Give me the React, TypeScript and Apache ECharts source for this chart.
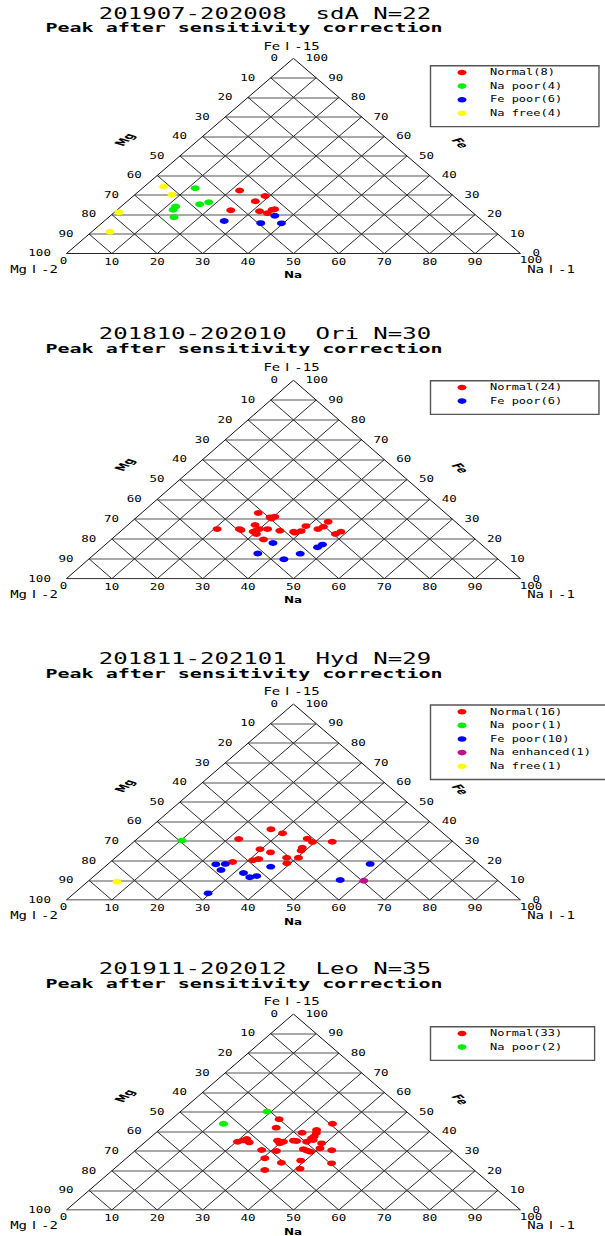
import React, { useEffect, useRef } from "react";
import * as echarts from "echarts";

// Every point is stored as [Na %, Fe %]; the Mg share is 100 - Na - Fe.
const TICK_VALUES = [0, 10, 20, 30, 40, 50, 60, 70, 80, 90, 100];
const GRID_STEPS = [10, 20, 30, 40, 50, 60, 70, 80, 90];

const RED = "#ff0000";
const GREEN = "#00ee00";
const BLUE = "#0000ff";
const MAGENTA = "#c0108c";
const YELLOW = "#ffff00";

// ---- 201907-202008 sdA ----
const sdaTitle = "201907-202008  sdA N=22";
const sdaLegend = ["Normal(8)", "Na poor(4)", "Fe poor(6)", "Na free(4)"];
const sdaNormal = [[22.0, 32.3], [29.0, 29.5], [28.2, 26.8], [25.1, 22.2], [31.7, 21.7], [33.9, 20.7], [34.1, 22.4], [34.5, 22.7]];
const sdaNaPoor = [[11.6, 33.5], [16.7, 25.3], [18.2, 26.3], [12.0, 24.1], [12.3, 22.4], [14.4, 18.6]];
const sdaFePoor = [[26.4, 16.7], [35.0, 15.6], [36.2, 19.4], [39.6, 15.5]];
const sdaNaFree = [[4.3, 34.3], [8.2, 30.1], [1.0, 21.2], [4.0, 11.2]];

// ---- 201810-202010 Ori ----
const oriTitle = "201810-202010  Ori N=30";
const oriLegend = ["Normal(24)", "Fe poor(6)"];
const oriNormal = [
  [25.7, 33.1], [29.4, 30.9], [30.3, 31.2], [20.7, 25.0], [25.6, 25.0], [26.2, 24.5],
  [28.0, 27.1], [31.8, 25.0], [29.6, 24.2], [30.6, 22.5], [30.0, 25.0], [33.5, 19.8],
  [34.9, 24.2], [38.2, 23.7], [38.7, 23.2], [39.7, 24.0], [39.5, 26.5], [42.9, 25.0],
  [43.5, 26.2], [43.3, 28.7], [48.0, 22.5], [48.6, 23.7], [29.3, 23.7], [30.0, 30.3],
];
const oriFePoor = [[36.5, 18.0], [35.8, 12.7], [43.0, 9.8], [45.2, 12.6], [47.4, 15.8], [47.8, 17.2]];

// ---- 201811-202101 Hyd ----
const hydTitle = "201811-202101  Hyd N=29";
const hydLegend = ["Normal(16)", "Na poor(1)", "Fe poor(10)", "Na enhanced(1)", "Na free(1)"];
const hydNormal = [
  [27.0, 36.1], [30.6, 34.0], [22.4, 31.1], [37.4, 31.3], [39.4, 29.6], [43.7, 29.7],
  [29.7, 25.9], [32.8, 24.3], [38.6, 26.7], [39.1, 25.2], [26.9, 19.4], [30.9, 20.3],
  [31.9, 20.9], [37.7, 21.6], [40.3, 21.6], [39.2, 18.7],
];
const hydNaPoor = [[10.3, 30.3]];
const hydFePoor = [
  [23.8, 18.2], [25.8, 18.4], [26.4, 15.3], [32.1, 13.8], [34.6, 11.6],
  [35.8, 12.2], [36.5, 17.0], [29.5, 3.4], [55.2, 10.2], [57.7, 18.4],
];
const hydNaEnhanced = [[60.6, 9.8]];
const hydNaFree = [[6.5, 9.3]];

// ---- 201911-202012 Leo ----
const leoTitle = "201911-202012  Leo N=35";
const leoLegend = ["Normal(33)", "Na poor(2)"];
const leoNormal = [
  [23.7, 46.3], [25.2, 42.0], [36.6, 44.0], [32.2, 39.4], [34.7, 40.8], [35.4, 39.3],
  [20.3, 34.8], [21.2, 35.5], [21.6, 36.2], [23.0, 34.5], [28.8, 35.4], [30.0, 34.0],
  [30.4, 34.8], [32.3, 35.4], [33.1, 35.2], [35.5, 34.8], [35.7, 36.6], [36.5, 35.7],
  [39.2, 34.0], [40.1, 31.5], [36.7, 31.0], [37.8, 30.3], [38.9, 29.7], [31.2, 30.1],
  [27.7, 30.6], [30.5, 26.4], [35.3, 24.1], [39.0, 25.2], [46.5, 23.8], [43.2, 30.5],
  [33.5, 20.4], [40.9, 21.1], [35.8, 37.5],
];
const leoNaPoor = [[19.1, 50.2], [12.6, 44.0]];

// ---- page layout (pixels) ----
const TRI_LEFT = 66.4;
const TRI_WIDTH = 454.1;

const MONO = '"DejaVu Sans Mono", "Noto Sans CJK JP", monospace';
const FONT_TITLE = `24px ${MONO}`;
const FONT_SUB = `bold 20px ${MONO}`;
const FONT_TICK = `12.5px ${MONO}`;
const FONT_CORNER = `14px ${MONO}`;
const FONT_LEGEND = `12px ${MONO}`;
const FONT_AXIS = 'bold 15px "DejaVu Sans", sans-serif';

type Group = { label: string; color: string; pts: number[][] };
type Panel = {
  title: string;
  groups: Group[];
  baseY: number;
  height: number;
  titleY: number;
  subY: number;
  legendTop: number;
  legendRight: number;
};

const panels: Panel[] = [
  {
    title: sdaTitle,
    groups: [
      { label: sdaLegend[0], color: RED, pts: sdaNormal },
      { label: sdaLegend[1], color: GREEN, pts: sdaNaPoor },
      { label: sdaLegend[2], color: BLUE, pts: sdaFePoor },
      { label: sdaLegend[3], color: YELLOW, pts: sdaNaFree },
    ],
    baseY: 253.6, height: 195.3, titleY: 13.3, subY: 27.7, legendTop: 65.7, legendRight: 599,
  },
  {
    title: oriTitle,
    groups: [
      { label: oriLegend[0], color: RED, pts: oriNormal },
      { label: oriLegend[1], color: BLUE, pts: oriFePoor },
    ],
    baseY: 578.7, height: 198.5, titleY: 334, subY: 349.3, legendTop: 380.7, legendRight: 599,
  },
  {
    title: hydTitle,
    groups: [
      { label: hydLegend[0], color: RED, pts: hydNormal },
      { label: hydLegend[1], color: GREEN, pts: hydNaPoor },
      { label: hydLegend[2], color: BLUE, pts: hydFePoor },
      { label: hydLegend[3], color: MAGENTA, pts: hydNaEnhanced },
      { label: hydLegend[4], color: YELLOW, pts: hydNaFree },
    ],
    baseY: 900, height: 196, titleY: 659, subY: 673.7, legendTop: 705, legendRight: 610,
  },
  {
    title: leoTitle,
    groups: [
      { label: leoLegend[0], color: RED, pts: leoNormal },
      { label: leoLegend[1], color: GREEN, pts: leoNaPoor },
    ],
    baseY: 1210, height: 196, titleY: 969, subY: 983.7, legendTop: 1026.7, legendRight: 594.6,
  },
];

// ternary (Na, Fe) -> cartesian value space of a 0..100 x 0..100 grid
function toXY(na: number, fe: number): number[] {
  return [na + fe / 2, fe];
}

function text(x: number, y: number, str: string, font: string, squash: number, align = "center") {
  return {
    type: "text",
    x,
    y,
    scaleY: squash,
    silent: true,
    style: {
      text: str,
      font,
      fill: "#000",
      align,
      verticalAlign: "middle",
      textAlign: align,
      textVerticalAlign: "middle",
    },
  };
}

function rotatedName(x: number, y: number, str: string, angle: number) {
  return {
    type: "group",
    x,
    y,
    scaleY: 0.5,
    silent: true,
    children: [
      {
        type: "text",
        rotation: angle,
        style: {
          text: str,
          font: FONT_AXIS,
          fill: "#000",
          align: "center",
          verticalAlign: "middle",
          textAlign: "center",
          textVerticalAlign: "middle",
        },
      },
    ],
  };
}

type TickItem = { pos: number[]; label: string; side: "left" | "right" | "bottom"; value: number };

function buildOption() {
  const grid: any[] = [];
  const xAxis: any[] = [];
  const yAxis: any[] = [];
  const series: any[] = [];
  const graphic: any[] = [];

  const tickItems: TickItem[] = [];
  TICK_VALUES.forEach((t) => {
    tickItems.push({ pos: toXY(0, 100 - t), label: String(t), side: "left", value: t });
    tickItems.push({ pos: toXY(100 - t, t), label: String(t), side: "right", value: t });
    tickItems.push({ pos: toXY(t, 0), label: String(t), side: "bottom", value: t });
  });

  panels.forEach((p, i) => {
    const top = p.baseY - p.height;
    grid.push({ left: TRI_LEFT, top, width: TRI_WIDTH, height: p.height, containLabel: false, outerBoundsMode: "none" });
    xAxis.push({ gridIndex: i, type: "value", min: 0, max: 100, show: false });
    yAxis.push({ gridIndex: i, type: "value", min: 0, max: 100, show: false });
    const axes = { xAxisIndex: i, yAxisIndex: i };

    // constant-Fe lines
    series.push({
      type: "lines",
      coordinateSystem: "cartesian2d",
      ...axes,
      silent: true,
      z: 1,
      lineStyle: { color: "#8c8c8c", width: 1.6, opacity: 1 },
      data: GRID_STEPS.map((fe) => ({ coords: [toXY(0, fe), toXY(100 - fe, fe)] })),
    });
    // constant-Na and constant-Mg lines
    series.push({
      type: "lines",
      coordinateSystem: "cartesian2d",
      ...axes,
      silent: true,
      z: 2,
      lineStyle: { color: "#2b2b2b", width: 1, opacity: 1 },
      data: [
        ...GRID_STEPS.map((na) => ({ coords: [toXY(na, 0), toXY(na, 100 - na)] })),
        ...GRID_STEPS.map((mg) => ({ coords: [toXY(100 - mg, 0), toXY(0, 100 - mg)] })),
      ],
    });
    // triangle frame
    series.push({
      type: "lines",
      coordinateSystem: "cartesian2d",
      ...axes,
      silent: true,
      polyline: true,
      z: 3,
      lineStyle: { color: "#111", width: 1, opacity: 1 },
      data: [{ coords: [toXY(0, 0), toXY(100, 0), toXY(0, 100), toXY(0, 0)] }],
    });
    // tick labels on the three edges
    series.push({
      type: "custom",
      ...axes,
      silent: true,
      z: 4,
      clip: false,
      data: tickItems.map((t) => t.pos),
      renderItem: (params: any, api: any) => {
        const it = tickItems[params.dataIndex];
        const c = api.coord(it.pos);
        let dx = 0;
        let dy = 0;
        let align = "center";
        if (it.side === "left") {
          dx = -15.5;
          align = "right";
        } else if (it.side === "right") {
          dx = 12;
          align = "left";
        } else {
          dy = 8.3;
          if (it.value === 0) {
            dx = -3;
            dy = 7.6;
          } else if (it.value === 100) {
            dx = 10.5;
            dy = 7;
          }
        }
        return {
          type: "text",
          x: c[0] + dx,
          y: c[1] + dy,
          scaleY: 0.7,
          style: {
            text: it.label,
            font: FONT_TICK,
            fill: "#000",
            align,
            verticalAlign: "middle",
            textAlign: align,
            textVerticalAlign: "middle",
          },
        };
      },
    });
    // measured points
    p.groups.forEach((g) => {
      series.push({
        type: "scatter",
        name: g.label,
        ...axes,
        silent: true,
        z: 6,
        symbol: "circle",
        symbolSize: [9, 5.8],
        itemStyle: { color: g.color, opacity: 1 },
        data: g.pts.map(([na, fe]) => toXY(na, fe)),
      });
    });

    // titles
    graphic.push(text(265, p.titleY, p.title, FONT_TITLE, 0.66));
    graphic.push(text(244, p.subY, "Peak after sensitivity correction", FONT_SUB, 0.57));
    // vertex names
    graphic.push(text(291.5, top - 12, "FeⅠ-15", FONT_CORNER, 0.7));
    graphic.push(text(34, p.baseY + 15.7, "MgⅠ-2", FONT_CORNER, 0.7));
    graphic.push(text(551, p.baseY + 15.7, "NaⅠ-1", FONT_CORNER, 0.7));
    // axis names
    graphic.push(text(293, p.baseY + 21.3, "Na", 'bold 12px "DejaVu Sans", sans-serif', 0.72));
    graphic.push(rotatedName(125, p.baseY - 114, "Mg", Math.PI / 3));
    graphic.push(rotatedName(460, p.baseY - 110.5, "Fe", -Math.PI / 3));

    // legend box
    const rowPitch = 13.6;
    const boxH = p.groups.length * rowPitch + 6.5;
    graphic.push({
      type: "rect",
      silent: true,
      shape: { x: 430.5, y: p.legendTop, width: p.legendRight - 430.5, height: boxH },
      style: { fill: "#fff", stroke: "#555", lineWidth: 1.4 },
      z: 10,
    });
    p.groups.forEach((g, k) => {
      const cy = p.legendTop + 6.8 + k * rowPitch;
      graphic.push({
        type: "ellipse",
        silent: true,
        shape: { cx: 462, cy, rx: 4.5, ry: 2.8 },
        style: { fill: g.color },
        z: 11,
      });
      const t: any = text(490, cy, g.label, FONT_LEGEND, 0.66, "left");
      t.z = 11;
      graphic.push(t);
    });
  });

  return {
    animation: false,
    backgroundColor: "#fff",
    grid,
    xAxis,
    yAxis,
    series,
    graphic: { elements: graphic },
  };
}

export default function App() {
  const ref = useRef<HTMLDivElement>(null);

  useEffect(() => {
    const prevMargin = document.body.style.margin;
    document.body.style.margin = "0";
    const el = ref.current;
    if (!el) return;
    const chart = echarts.init(el, undefined, { renderer: "svg", width: 605, height: 1236 });
    chart.setOption(buildOption() as any);
    return () => {
      chart.dispose();
      document.body.style.margin = prevMargin;
    };
  }, []);

  return <div ref={ref} style={{ width: 605, height: 1236, background: "#fff" }} />;
}
